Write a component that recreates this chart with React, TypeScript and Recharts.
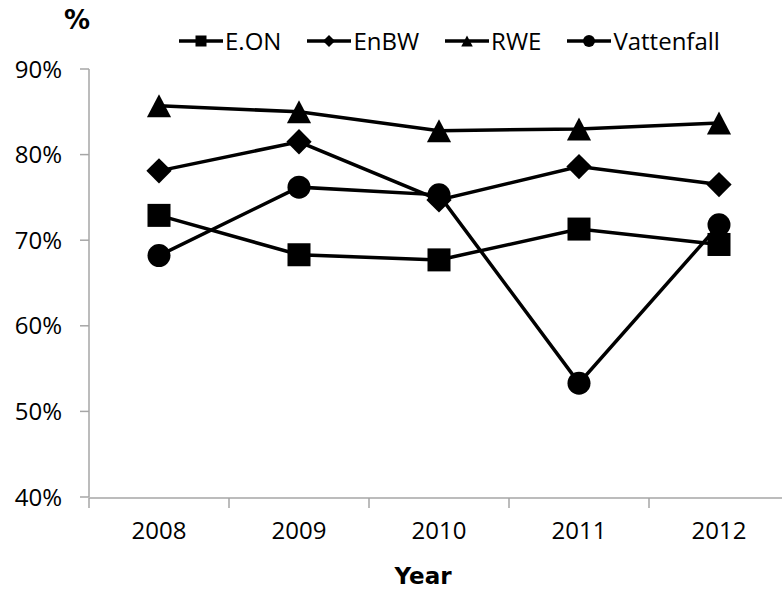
import React from "react";
import { LineChart, Line, XAxis, YAxis, Legend } from "recharts";

const years = ["2008", "2009", "2010", "2011", "2012"];
const eon = [72.9, 68.3, 67.7, 71.3, 69.5];
const enbw = [78.1, 81.5, 74.7, 78.6, 76.5];
const rwe = [85.7, 85.0, 82.8, 83.0, 83.7];
const vattenfall = [68.2, 76.2, 75.3, 53.3, 71.8];
const yTicks = [40, 50, 60, 70, 80, 90];
// boundaries between year slots (index units)
const bandTicks = [-0.5, 0.5, 1.5, 2.5, 3.5, 4.5];

const series = [
  { key: "eon", name: "E.ON", shape: "square" },
  { key: "enbw", name: "EnBW", shape: "diamond" },
  { key: "rwe", name: "RWE", shape: "triangle" },
  { key: "vattenfall", name: "Vattenfall", shape: "circle" },
];

const data = years.map((year, i) => ({
  year,
  idx: i,
  eon: eon[i],
  enbw: enbw[i],
  rwe: rwe[i],
  vattenfall: vattenfall[i],
}));

const FONT = "'Open Sans', 'Liberation Sans', sans-serif";
const BOLD_FONT = "'DejaVu Sans', sans-serif";
const AXIS_GREY = "#a6a6a6";

// marker shape drawn around (cx, cy), s = half size
const marker = (shape: string, cx: number, cy: number, s: number, key?: string) => {
  if (shape === "square") {
    return <rect key={key} x={cx - s} y={cy - s} width={2 * s} height={2 * s} fill="#000" />;
  }
  if (shape === "diamond") {
    const d = s * 1.1;
    return (
      <polygon
        key={key}
        points={`${cx},${cy - d} ${cx + d},${cy} ${cx},${cy + d} ${cx - d},${cy}`}
        fill="#000"
      />
    );
  }
  if (shape === "triangle") {
    return (
      <polygon
        key={key}
        points={`${cx},${cy - s} ${cx + s * 1.05},${cy + s} ${cx - s * 1.05},${cy + s}`}
        fill="#000"
      />
    );
  }
  return <circle key={key} cx={cx} cy={cy} r={s} fill="#000" />;
};

const dotFor = (shape: string) => (props: any) => {
  const { cx, cy, index } = props;
  return marker(shape, cx, cy, 11.5, `${shape}-${index}`);
};

const LegendContent = () => (
  <div style={{ display: "flex", alignItems: "center", fontFamily: FONT, fontSize: 24, height: 24 }}>
    {series.map((s) => (
      <div key={s.key} style={{ display: "flex", alignItems: "center", marginRight: 26 }}>
        <svg width={44} height={24}>
          <line x1={0} y1={12} x2={44} y2={12} stroke="#000" strokeWidth={3.5} />
          {marker(s.shape, 22, 12, s.shape === "circle" ? 6 : 5.5)}
        </svg>
        <span style={{ marginLeft: 2, lineHeight: "24px", color: "#000" }}>{s.name}</span>
      </div>
    ))}
  </div>
);

const noTick = () => <g />;

export default function App() {
  return (
    <div
      style={{
        position: "absolute",
        left: 0,
        top: 0,
        width: 782,
        height: 592,
        overflow: "hidden",
        background: "#fff",
      }}
    >
      <LineChart
        width={800}
        height={592}
        data={data}
        margin={{ top: 45, right: 11, bottom: 93, left: 0 }}
      >
        <XAxis
          dataKey="year"
          height={1}
          padding={{ left: 70, right: 70 }}
          axisLine={false}
          tickLine={false}
          tickSize={0}
          tickMargin={25}
          tick={{ fontFamily: FONT, fontSize: 24, fill: "#000" }}
          label={{
            value: "Year",
            position: "bottom",
            offset: 70,
            dx: -16,
            style: { fontFamily: BOLD_FONT, fontWeight: "bold", fontSize: 23, fill: "#000" },
          }}
        />
        <XAxis
          xAxisId="bands"
          dataKey="idx"
          type="number"
          domain={[-0.5, 4.5]}
          ticks={bandTicks}
          allowDataOverflow
          height={1}
          tick={noTick}
          tickSize={10}
          tickLine={{ stroke: AXIS_GREY, strokeWidth: 1.5 }}
          stroke={AXIS_GREY}
          strokeWidth={1.5}
        />
        <YAxis
          width={89}
          domain={[40, 90]}
          ticks={yTicks}
          tickFormatter={(v) => `${v}%`}
          tickSize={9}
          tickMargin={18}
          stroke={AXIS_GREY}
          strokeWidth={1.5}
          tick={{ fontFamily: FONT, fontSize: 24, fill: "#000" }}
          label={{
            content: () => (
              <text
                x={77}
                y={29}
                textAnchor="middle"
                fontFamily={BOLD_FONT}
                fontWeight="bold"
                fontSize={26}
                fill="#000"
              >
                %
              </text>
            ),
          }}
        />
        <Legend
          verticalAlign="top"
          content={<LegendContent />}
          wrapperStyle={{ position: "absolute", left: 179, top: 29, width: "auto" }}
        />
        {series.map((s) => (
          <Line
            key={s.key}
            dataKey={s.key}
            name={s.name}
            stroke="#000"
            strokeWidth={3.5}
            dot={dotFor(s.shape)}
            activeDot={false}
            isAnimationActive={false}
          />
        ))}
      </LineChart>
    </div>
  );
}
